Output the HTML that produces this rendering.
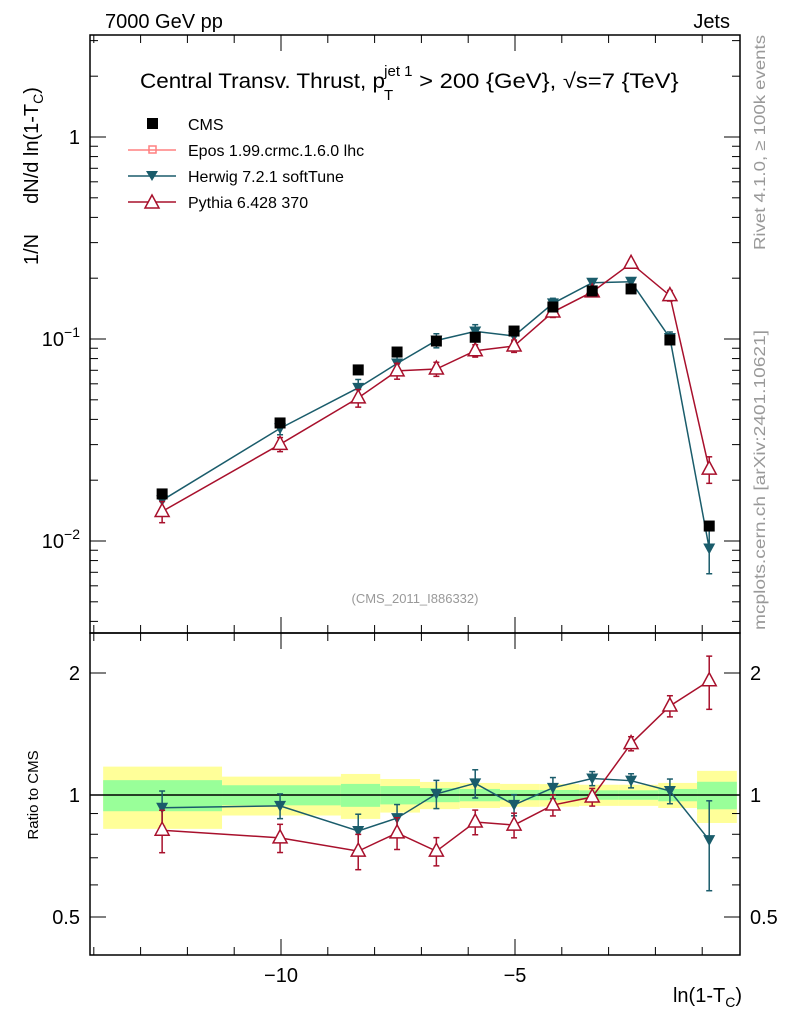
<!DOCTYPE html>
<html><head><meta charset="utf-8"><style>
html,body{margin:0;padding:0;background:#fff;}
svg{display:block;font-family:"Liberation Sans",sans-serif;}
</style></head><body>
<svg id="chart" width="786" height="1024" xmlns="http://www.w3.org/2000/svg">
<g id="bands"></g>
<g id="axes"></g>
<g id="marks"></g>
<text x="105" y="28" font-size="20">7000 GeV pp</text>
<text x="730" y="28" font-size="20" text-anchor="end">Jets</text>
<text x="140" y="88" font-size="21"><tspan textLength="245" lengthAdjust="spacingAndGlyphs">Central Transv. Thrust, p</tspan><tspan font-size="15" dx="-1" dy="12">T</tspan><tspan font-size="15" dx="-9" dy="-24">jet 1</tspan><tspan dy="12" textLength="266" lengthAdjust="spacingAndGlyphs"> &gt; 200 {GeV}, √s=7 {TeV}</tspan></text>
<g font-size="16">
<rect x="147" y="118" width="11" height="11" fill="#000"/>
<text x="188" y="130">CMS</text>
<line x1="128" y1="150" x2="176" y2="150" stroke="#ff8080" stroke-width="1.5"/>
<rect x="149" y="146" width="7" height="7" fill="none" stroke="#ff8080" stroke-width="1.5"/>
<text x="188" y="156">Epos 1.99.crmc.1.6.0 lhc</text>
<line x1="128" y1="176" x2="176" y2="176" stroke="#1a5c6b" stroke-width="1.5"/>
<polygon points="146,171 158,171 152,181" fill="#1a5c6b"/>
<text x="188" y="182">Herwig 7.2.1 softTune</text>
<line x1="128" y1="202" x2="176" y2="202" stroke="#a8102c" stroke-width="1.5"/>
<polygon points="152,195 159,208 145,208" fill="#fff" stroke="#a8102c" stroke-width="1.5"/>
<text x="188" y="208">Pythia 6.428 370</text>
</g>
<text x="415" y="603" font-size="13" fill="#999" text-anchor="middle">(CMS_2011_I886332)</text>
<text transform="translate(38,265) rotate(-90)" font-size="20">1/N<tspan dx="30">dN/d ln(1-T</tspan><tspan font-size="14" dy="5">C</tspan><tspan dy="-5">)</tspan></text>
<text transform="translate(38,795) rotate(-90)" font-size="15" text-anchor="middle">Ratio to CMS</text>
<text x="742" y="1002" font-size="20" text-anchor="end">ln(1-T<tspan font-size="14" dy="5">C</tspan><tspan dy="-5">)</tspan></text>
<text transform="translate(765,250) rotate(-90)" font-size="16" fill="#999" textLength="215" lengthAdjust="spacingAndGlyphs">Rivet 4.1.0, ≥ 100k events</text>
<text transform="translate(765,630) rotate(-90)" font-size="16" fill="#999" textLength="300" lengthAdjust="spacingAndGlyphs">mcplots.cern.ch [arXiv:2401.10621]</text>
</svg>
<script>
const binEdges=[-13.80,-11.26,-8.72,-7.88,-7.03,-6.18,-5.32,-4.47,-3.63,-2.79,-1.94,-1.11,-0.26];
const xCenters=[-12.54,-10.02,-8.35,-7.52,-6.68,-5.85,-5.02,-4.19,-3.35,-2.52,-1.69,-0.85];
const cmsValues=[0.0171,0.0384,0.0703,0.0862,0.0977,0.102,0.1095,0.144,0.173,0.177,0.0989,0.01186];
const cmsStatErr=[0.088,0.057,0.065,0.052,0.04,0.035,0.029,0.029,0.027,0.027,0.035,0.078];
const cmsTotErr=[0.175,0.11,0.127,0.095,0.077,0.071,0.065,0.064,0.06,0.06,0.071,0.147];
const herwigValues=[0.0159,0.0361,0.0573,0.0756,0.0983,0.109,0.1035,0.150,0.190,0.192,0.1012,0.00918];
const herwigErr=[0.1,0.07,0.1,0.08,0.08,0.08,0.06,0.06,0.04,0.04,0.07,0.25];
const pythiaValues=[0.0140,0.0301,0.0511,0.0695,0.0710,0.0875,0.0923,0.136,0.171,0.237,0.164,0.0227];
const pythiaErr=[0.12,0.08,0.1,0.09,0.08,0.07,0.07,0.06,0.05,0.04,0.06,0.15];
const xTicks=[-10,-5];
const xTickLabels=["−10","−5"];
const ratioTicks=[0.5,1,2];
const ratioTickLabels=["0.5","1","2"];

const NS="http://www.w3.org/2000/svg";
const L=90,R=740,MT=35,MB=633,RB=955;
const X=v=>749+v*46.8;
const Y=v=>137-Math.log10(v)*202;
const YR=v=>795-Math.log2(v)*122;
function mk(parent,tag,attrs){const e=document.createElementNS(NS,tag);for(const k in attrs)e.setAttribute(k,attrs[k]);parent.appendChild(e);return e;}
const bands=document.getElementById('bands'),axes=document.getElementById('axes'),marks=document.getElementById('marks');

for(let i=0;i<cmsValues.length;i++){
  const x0=X(binEdges[i]),x1=X(binEdges[i+1]);
  const y=mk(bands,'rect',{x:x0,y:YR(1+cmsTotErr[i]),width:x1-x0,height:YR(1-cmsTotErr[i])-YR(1+cmsTotErr[i]),fill:'#ffff99'});
  
  
  const g=mk(bands,'rect',{x:x0,y:YR(1+cmsStatErr[i]),width:x1-x0,height:YR(1-cmsStatErr[i])-YR(1+cmsStatErr[i]),fill:'#99ff99'});
  
  
}
mk(axes,'rect',{x:L,y:MT,width:R-L,height:MB-MT,fill:'none',stroke:'#000','stroke-width':1.5});
mk(axes,'rect',{x:L,y:MB,width:R-L,height:RB-MB,fill:'none',stroke:'#000','stroke-width':1.5});
mk(axes,'line',{x1:L,x2:R,y1:YR(1),y2:YR(1),stroke:'#000','stroke-width':1.5});
for(let v=-14;v<=0;v++){
  const x=X(v); if(x<L||x>R)continue;
  const len=(v%5===0)?16:8;
  [[MT,1],[MB,-1],[MB,1],[RB,-1]].forEach(([y0,d])=>mk(axes,'line',{x1:x,x2:x,y1:y0,y2:y0+d*len,stroke:'#000','stroke-width':1}));
}
xTicks.forEach((v,i)=>{const t=mk(axes,'text',{x:X(v),y:982,'font-size':20,'text-anchor':'middle'});t.textContent=xTickLabels[i];

});
for(let d=-3;d<=0;d++){for(let m=1;m<=9;m++){const v=m*Math.pow(10,d);const y=Y(v);if(y<MT||y>MB)continue;const len=m===1?16:8;
mk(axes,'line',{x1:L,x2:L+len,y1:y,y2:y,stroke:'#000'});mk(axes,'line',{x1:R,x2:R-len,y1:y,y2:y,stroke:'#000'});}}
[[1,'1',''],[0.1,'10','−1'],[0.01,'10','−2']].forEach(([v,b,e])=>{const t=mk(axes,'text',{x:80,y:Y(v)+7,'font-size':20,'text-anchor':'end'});
t.innerHTML=e?b+'<tspan font-size="14" dy="-9">'+e+'</tspan>':b;

});
[0.5,0.6,0.7,0.8,0.9,1,2].forEach(v=>{const y=YR(v);const len=ratioTicks.includes(v)?16:8;
mk(axes,'line',{x1:L,x2:L+len,y1:y,y2:y,stroke:'#000'});mk(axes,'line',{x1:R,x2:R-len,y1:y,y2:y,stroke:'#000'});});
ratioTicks.forEach((v,i)=>{
  const t=mk(axes,'text',{x:80,y:YR(v)+7,'font-size':20,'text-anchor':'end'});t.textContent=ratioTickLabels[i];
  
  
  const t2=mk(axes,'text',{x:750,y:YR(v)+7,'font-size':20});t2.textContent=ratioTickLabels[i];
  
  
});
function series(vals,errs,color,type,name){
  const g=mk(marks,'g',{});
  
  
  const pm=vals.map((v,i)=>X(xCenters[i])+','+Y(v)).join(' ');
  const pr=vals.map((v,i)=>X(xCenters[i])+','+YR(v/cmsValues[i])).join(' ');
  mk(g,'polyline',{points:pm,fill:'none',stroke:color,'stroke-width':1.5});
  mk(g,'polyline',{points:pr,fill:'none',stroke:color,'stroke-width':1.5});
  vals.forEach((v,i)=>{
    const x=X(xCenters[i]);
    [[Y,v],[YR,v/cmsValues[i]]].forEach(([f,val])=>{
      const y=f(val),y1=f(val*(1+errs[i])),y2=f(val*(1-errs[i]));
      mk(g,'line',{x1:x,x2:x,y1:y1,y2:y2,stroke:color,'stroke-width':1.5});
      mk(g,'line',{x1:x-3,x2:x+3,y1:y1,y2:y1,stroke:color,'stroke-width':1.5});
      mk(g,'line',{x1:x-3,x2:x+3,y1:y2,y2:y2,stroke:color,'stroke-width':1.5});
      const p=type==='down'?mk(g,'polygon',{points:`${x-6},${y-5} ${x+6},${y-5} ${x},${y+6}`,fill:color}):
        mk(g,'polygon',{points:`${x},${y-8} ${x+7},${y+5} ${x-7},${y+5}`,fill:'#fff',stroke:color,'stroke-width':1.5});
      
      
    });
  });
}
series(herwigValues,herwigErr,'#1a5c6b','down','herwig-series');
series(pythiaValues,pythiaErr,'#a8102c','up','pythia-series');
cmsValues.forEach((v,i)=>{
  const r=mk(marks,'rect',{x:X(xCenters[i])-5.5,y:Y(v)-5.5,width:11,height:11,fill:'#000'});
  
  
});
</script>
</body></html>
